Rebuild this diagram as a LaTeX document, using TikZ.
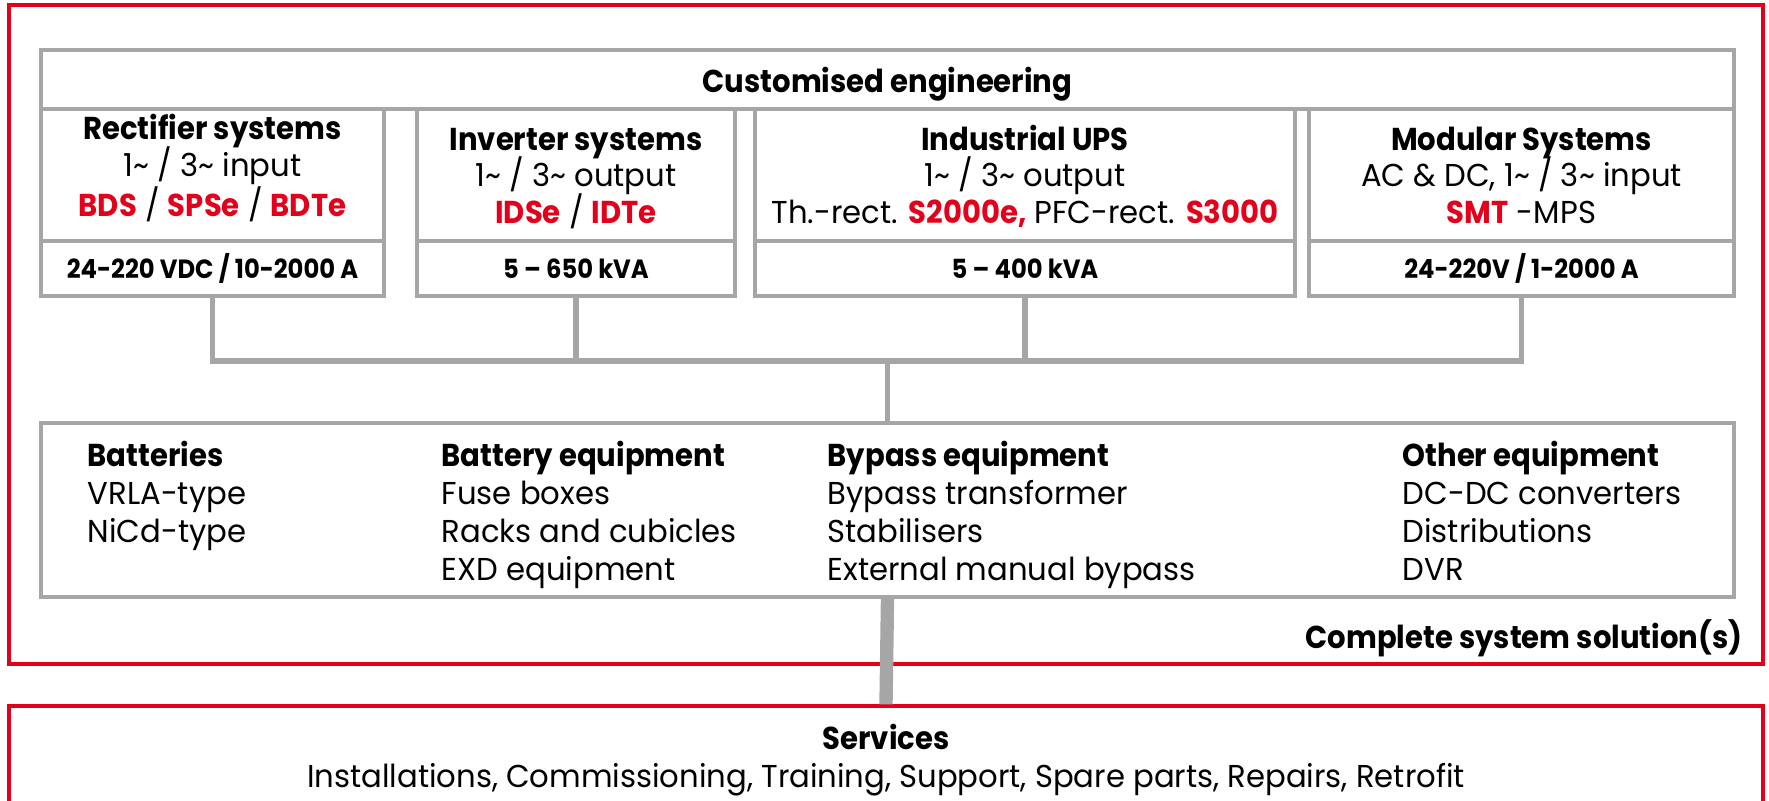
\documentclass[tikz,border=0pt]{standalone}
\usepackage{fontspec}
\setmainfont{Poppins}[FakeStretch=0.97,BoldFeatures={FakeStretch=0.92}]
\definecolor{bred}{RGB}{226,0,26}
\definecolor{lgray}{RGB}{166,166,166}
\newcommand{\rd}[1]{\textcolor{bred}{\textbf{#1}}}
\newcommand{\tl}{\textasciitilde}
\newcommand{\topline}[1]{\smash{#1}\rule[-3.15pt]{0pt}{13.1pt}}
\newcommand{\boxline}[1]{\smash{#1}\strut}
\newcommand{\deepline}[1]{\smash{#1}\rule[-5.5pt]{0pt}{12.85pt}}

\begin{document}
\begin{tikzpicture}[
    every node/.style={font=\fontsize{9}{10.8}\selectfont},
    redbox/.style={draw=bred,line width=0.9pt,rectangle,inner sep=0pt},
    graybox/.style={draw=lgray,line width=1pt,rectangle,inner sep=0pt,align=center},
    sysbox/.style={graybox,minimum height=1.32cm,font=\fontsize{9}{10.5}\selectfont},
    valbox/.style={graybox,minimum height=0.55cm,font=\fontsize{7.5}{9}\selectfont\bfseries},
    link/.style={draw=lgray,line width=1.5pt},
    trunk/.style={draw=lgray,line width=3.8pt},
    col/.style={anchor=north west,align=left,inner sep=0pt}
  ]
  \useasboundingbox (0,0) rectangle (17.69,-8.01);

  % frames
  \node[name=sol,redbox,minimum width=17.54cm,minimum height=6.59cm] at (8.86,-3.345){};
  \node[name=serv,redbox,minimum width=17.54cm,minimum height=1.09cm,align=center] at (8.86,-7.605)
    {\textbf{Services}\\Installations, Commissioning, Training, Support, Spare parts, Repairs, Retrofit};
  \node[name=cs,anchor=east,inner sep=0pt,font=\fontsize{9}{10.8}\selectfont\bfseries] at (17.43,-6.38){Complete system solution(s)};

  % product boxes
  \node[name=eng,graybox,minimum width=16.93cm,minimum height=0.59cm,text depth=0pt,font=\fontsize{9}{10.8}\selectfont\bfseries] at (8.875,-0.795){Customised engineering};
  \node[name=rect,sysbox,minimum width=3.43cm] at (2.125,-1.75)
    {\boxline{\textbf{Rectifier systems}}\\\boxline{1\tl{} / 3\tl{} input}\\\deepline{\rd{BDS} / \rd{SPSe} / \rd{BDTe}}};
  \node[name=inv,sysbox,minimum width=3.18cm] at (5.76,-1.75)
    {\topline{\textbf{Inverter systems}}\\\boxline{1\tl{} / 3\tl{} output}\\\boxline{\rd{IDSe} / \rd{IDTe}}};
  \node[name=ups,sysbox,minimum width=5.40cm] at (10.25,-1.75)
    {\topline{\textbf{Industrial UPS}}\\\boxline{1\tl{} / 3\tl{} output}\\\boxline{Th.-rect. \rd{S2000e,} PFC-rect. \rd{S3000}}};
  \node[name=mod,sysbox,minimum width=4.25cm] at (15.215,-1.75)
    {\topline{\textbf{Modular Systems}}\\\boxline{AC \& DC, 1\tl{} / 3\tl{} input}\\\boxline{\rd{SMT} -MPS}};
  \node[name=rectv,valbox,minimum width=3.43cm] at (2.125,-2.685){24-220 VDC / 10-2000 A};
  \node[name=invv,valbox,minimum width=3.18cm] at (5.76,-2.685){5 -- 650 kVA};
  \node[name=upsv,valbox,minimum width=5.40cm] at (10.25,-2.685){5 -- 400 kVA};
  \node[name=modv,valbox,minimum width=4.25cm] at (15.215,-2.685){24-220V / 1-2000 A};

  % equipment
  \node[name=equip,graybox,minimum width=16.93cm,minimum height=1.74cm] at (8.875,-5.10){};
  \node[name=batt,col] at (0.87,-4.405){\textbf{Batteries}\\VRLA-type\\NiCd-type};
  \node[name=battq,col] at (4.41,-4.405){\textbf{Battery equipment}\\Fuse boxes\\Racks and cubicles\\EXD equipment};
  \node[name=byp,col] at (8.27,-4.405){\textbf{Bypass equipment}\\Bypass transformer\\Stabilisers\\External manual bypass};
  \node[name=oth,col] at (14.02,-4.405){\textbf{Other equipment}\\DC-DC converters\\Distributions\\DVR};

  % connectors
  \coordinate (bus) at (8.875,-3.61);
  \draw[link] (rectv.south) |- (bus);
  \draw[link] (invv.south) |- (bus);
  \draw[link] (upsv.south) |- (bus);
  \draw[link] (modv.south) |- (bus);
  \draw[link] (bus) -- (equip.north);
  \draw[trunk] (equip.south) -- (serv.north);
\end{tikzpicture}
\end{document}
